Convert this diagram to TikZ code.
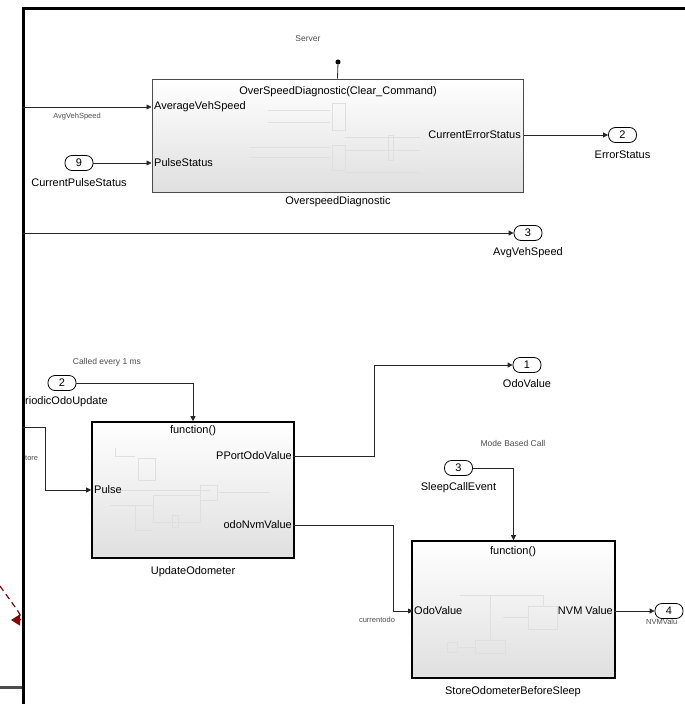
\documentclass[tikz,border=0pt]{standalone}
\usepackage{fontspec}
\setmainfont{Liberation Sans}
\usetikzlibrary{arrows.meta}
\definecolor{darkred}{RGB}{130,10,10}
\tikzset{
  wire/.style={line width=0.8pt, black!85},
  sig/.style={wire, -{Triangle[length=5pt,width=5pt]}},
  port/.style={draw, line width=0.8pt, rounded corners=7pt, minimum width=28pt,
    minimum height=15pt, inner sep=0pt, font=\fontsize{11}{11}\selectfont},
  subsys/.style={draw, top color=white, bottom color=gray!25, inner sep=0pt},
  lbl/.style={font=\fontsize{11}{13}\selectfont, inner sep=1pt},
  note/.style={font=\fontsize{8.5}{10}\selectfont, text=gray!60!black, inner sep=1pt},
  siglbl/.style={font=\fontsize{7.5}{9}\selectfont, text=gray!60!black, inner sep=1pt},
  ghost/.style={draw=gray!25, line width=0.5pt}
}
\begin{document}
\begin{tikzpicture}[x=1pt,y=-1pt]
    \useasboundingbox (0,0) rectangle (685,704);

    % Frame
    \draw[line width=3pt] (23,704) -- (23,8) -- (685,8);
    \draw[line width=3pt, black!70] (0,687) -- (21.5,687);

    % Overspeed diagnostic
    \node[subsys, draw=gray!60!black, line width=1pt, minimum width=371pt, minimum height=113pt] (ovs) at (337.5,135.5) {};
    \draw[ghost] (268,110) -- (330,110) (268,122) -- (330,122) (332,103) rectangle (345,130);
    \draw[ghost] (250,147) -- (330,147) (250,157) -- (330,157) (332,145) rectangle (345,170);
    \draw[ghost] (345,137) -- (420,137) (345,150) -- (420,150) (388,135) rectangle (393,160) (345,172) -- (420,172);
    \node[lbl] (ovstitle) at (338,92) {OverSpeedDiagnostic(Clear\_Command)};
    \node[lbl, anchor=west] (avgin) at (153,107) {AverageVehSpeed};
    \node[lbl, anchor=west] (pulsein) at (153,163) {PulseStatus};
    \node[lbl, anchor=east] (errout) at (522,135) {CurrentErrorStatus};
    \node[lbl] (ovsname) at (338,202) {OverspeedDiagnostic};

    \node[note] (server) at (308,39) {Server};
    \node[circle, fill, inner sep=1.8pt] (srvdot) at (338,62) {};
    \draw[wire] (srvdot) -- (ovs.north);

    \coordinate (avgsrc) at (23,107);
    \draw[sig] (avgsrc) -- (ovs.west |- avgsrc);
    \node[siglbl] (avgnote) at (77,117) {AvgVehSpeed};

    \node[port] (in9) at (79,163) {9};
    \node[lbl] (in9name) at (79,183) {CurrentPulseStatus};
    \draw[sig] (in9) -- (ovs.west |- in9);

    \node[port] (out2) at (622.5,135) {2};
    \node[lbl] (out2name) at (622.5,155) {ErrorStatus};
    \draw[sig] (ovs.east |- out2) -- (out2);

    % AvgVehSpeed pass through
    \coordinate (spdsrc) at (23,233);
    \node[port] (out3) at (528,233) {3};
    \node[lbl] (out3name) at (528,253) {AvgVehSpeed};
    \draw[sig] (spdsrc) -- (out3);

    % Update odometer
    \node[subsys, line width=1.6pt, minimum width=202pt, minimum height=136pt] (upd) at (193,490) {};
    \draw[ghost] (115,448) -- (115,456) -- (135,456) (138,458) rectangle (155,480) (120,490) -- (210,490);
    \draw[ghost] (153,495) rectangle (200,522) (172,515) rectangle (178,527) (200,485) rectangle (217,500);
    \draw[ghost] (217,492) -- (270,492) (110,505) -- (153,505) (135,505) -- (135,530) -- (153,530);
    \node[lbl] (updfun) at (193,431) {function()};
    \node[lbl, anchor=east] (pportout) at (293,456) {PPortOdoValue};
    \node[lbl, anchor=west] (updpulse) at (93,490) {Pulse};
    \node[lbl, anchor=east] (nvmout) at (293,525) {odoNvmValue};
    \node[lbl] (updname) at (193,572) {UpdateOdometer};

    \node[note] (callnote) at (107,362) {Called every 1 ms};
    \node[port] (in2) at (62,383) {2};
    \node[lbl, anchor=west] (in2name) at (24,402) {riodicOdoUpdate};
    \draw[sig] (in2) -| (upd.north);

    \coordinate (pulsesrc) at (23,427);
    \node[siglbl, anchor=west] (pulsenote) at (24,458) {tore};
    \draw[sig] (pulsesrc) -- (45,427) |- (upd.west);

    \node[port] (out1) at (527,365) {1};
    \node[lbl] (out1name) at (527,384) {OdoValue};
    \draw[sig] (pportout.east) -- (374,456) |- (out1);

    % Store odometer before sleep
    \node[subsys, line width=1.6pt, minimum width=203pt, minimum height=137pt] (sto) at (513.5,609.5) {};
    \draw[ghost] (460,595) -- (543,595) -- (543,606) (490,595) -- (490,640) (528,606) rectangle (557,629);
    \draw[ghost] (475,640) rectangle (505,653) (447,642) rectangle (457,652) (457,647) -- (475,647) (503,617) -- (528,617);
    \node[lbl] (stofun) at (513,552) {function()};
    \node[lbl, anchor=west] (odoin) at (413,611) {OdoValue};
    \node[lbl, anchor=east] (nvmvout) at (614,611) {NVM Value};
    \node[lbl] (stoname) at (513,692) {StoreOdometerBeforeSleep};

    \draw[sig] (nvmout.east) -- (393,525) |- (odoin.west);
    \node[siglbl] (curnote) at (377,620) {currentodo};

    \node[note] (modenote) at (513,443) {Mode Based Call};
    \node[port] (in3) at (458.5,468) {3};
    \node[lbl] (in3name) at (458.5,488) {SleepCallEvent};
    \draw[sig] (in3) -| (sto.north);

    \node[port] (out4) at (669,611) {4};
    \node[siglbl, anchor=west] (out4name) at (645,622) {NVMValu};
    \draw[sig] (nvmvout.east) -- (out4);

    % Red link
    \draw[darkred, line width=1.2pt, dash pattern=on 6pt off 4pt, -{Triangle[length=9pt,width=11pt]}]
        (0,586) .. controls (14,606) and (26,620) .. (11,620);
\end{tikzpicture}
\end{document}
